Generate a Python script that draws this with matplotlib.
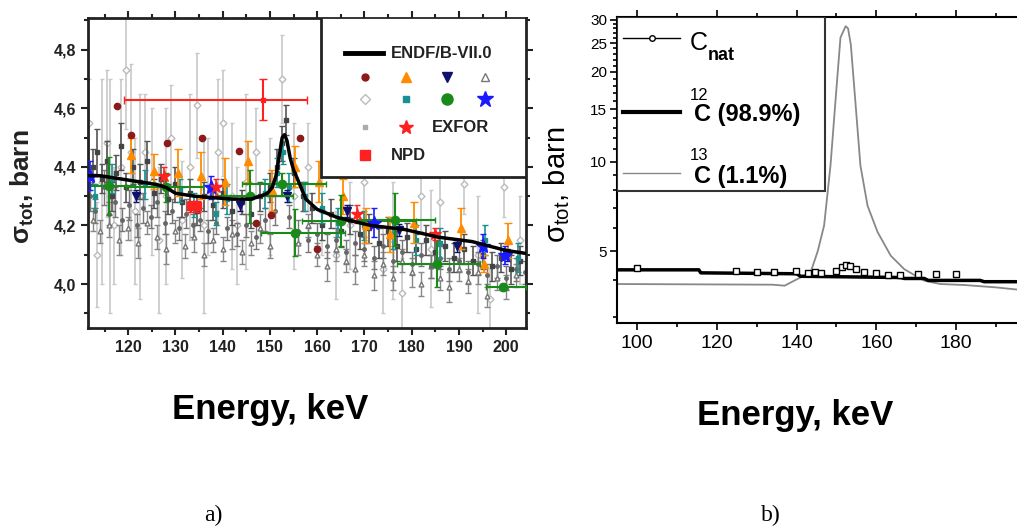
import matplotlib
matplotlib.use("Agg")
import matplotlib.pyplot as plt
from matplotlib.patches import Rectangle
from matplotlib.ticker import FixedLocator, MultipleLocator, FuncFormatter, NullFormatter

plt.rcParams["font.family"] = ["Liberation Sans", "DejaVu Sans"]
plt.rcParams["mathtext.default"] = "regular"

# ---------------- panel a data ----------------
endf_e = [111.5, 114, 118, 122, 126, 128, 130, 134, 138, 142, 146, 148, 149.5, 150.5, 151.3, 152,
          152.6, 153.1, 153.6, 154.3, 155.0, 155.8, 157.6, 160, 164.3, 171.4, 178.6, 185.7, 192.8,
          199.9, 204]
endf_s = [4.37, 4.37, 4.36, 4.35, 4.34, 4.33, 4.31, 4.30, 4.295, 4.29, 4.29, 4.30, 4.31, 4.33, 4.37,
          4.44, 4.50, 4.51, 4.49, 4.43, 4.39, 4.36, 4.29, 4.255, 4.227, 4.20, 4.186, 4.16, 4.145,
          4.115, 4.105]

# dark gray EXFOR points
dg_e = [112.5, 113.5, 114.5, 115.5, 116.5, 117.5, 118.5, 119.5, 121, 122.5, 124, 125.5, 127, 128.5,
        130, 131.5, 133, 134.5, 136, 138, 140, 142, 144, 146, 148, 150, 151.5, 152.5, 153.5, 155,
        157, 159, 161, 163, 165, 167, 169, 171, 173, 175, 177, 179, 181, 183, 185, 187, 189, 191,
        193, 195, 197, 199, 201, 203]
dg_s = [4.40, 4.45, 4.36, 4.42, 4.30, 4.38, 4.47, 4.33, 4.40, 4.35, 4.42, 4.31, 4.36, 4.29,
        4.34, 4.28, 4.31, 4.25, 4.30, 4.27, 4.31, 4.25, 4.28, 4.24, 4.30, 4.33, 4.40, 4.48, 4.56, 4.38,
        4.30, 4.26, 4.20, 4.24, 4.18, 4.22, 4.17, 4.19, 4.14, 4.18, 4.13, 4.16, 4.12, 4.15, 4.11, 4.13,
        4.09, 4.12, 4.08, 4.10, 4.06, 4.09, 4.05, 4.08]
dg_err = [0.06, 0.08, 0.05, 0.07, 0.05, 0.06, 0.08, 0.05, 0.06, 0.06, 0.07, 0.05, 0.05, 0.05,
          0.06, 0.05, 0.05, 0.05, 0.05, 0.05, 0.05, 0.05, 0.04, 0.05, 0.05, 0.05, 0.06, 0.06, 0.05,
          0.05, 0.05, 0.05, 0.05, 0.05, 0.05, 0.05, 0.05, 0.05, 0.05, 0.05, 0.05, 0.05, 0.05, 0.05,
          0.05, 0.05, 0.05, 0.05, 0.05, 0.05, 0.05, 0.05, 0.05, 0.05]

# second dark gray set (small circles)
xg_e = [112, 113, 114.8, 116, 117.2, 118.8, 120.2, 121.8, 123.2, 124.8, 126.2, 127.8, 129.2, 130.8,
        132.2, 133.8, 135.2, 136.8, 138.5, 141, 143, 145, 147, 149, 151, 154, 156, 158, 160, 162,
        164, 166, 168, 170, 172, 174, 176, 178, 180, 182, 184, 186, 188, 190, 192, 194, 196, 198,
        200, 202, 204]
xg_s = [4.30, 4.25, 4.33, 4.24, 4.28, 4.22, 4.27, 4.20, 4.26, 4.23, 4.28, 4.21, 4.25, 4.19, 4.24,
        4.20, 4.22, 4.18, 4.21, 4.19, 4.17, 4.20, 4.16, 4.22, 4.25, 4.23, 4.18, 4.15, 4.17, 4.13,
        4.15, 4.11, 4.14, 4.12, 4.09, 4.13, 4.08, 4.11, 4.07, 4.10, 4.06, 4.09, 4.05, 4.08, 4.04,
        4.07, 4.03, 4.06, 4.02, 4.05, 4.04]
xg_err = [0.05, 0.04, 0.06, 0.04, 0.05, 0.04, 0.05, 0.04, 0.05, 0.04, 0.05, 0.04, 0.04, 0.04, 0.05,
          0.04, 0.04, 0.04, 0.04, 0.04, 0.04, 0.04, 0.04, 0.04, 0.05, 0.04, 0.04, 0.04, 0.04, 0.04,
          0.04, 0.04, 0.04, 0.04, 0.04, 0.04, 0.04, 0.04, 0.04, 0.04, 0.04, 0.04, 0.04, 0.04, 0.04,
          0.04, 0.04, 0.04, 0.04, 0.04, 0.04]

# mid gray open triangles
mg_e = [112.5, 114, 116, 118, 120, 122, 124, 126, 128, 130, 132, 134, 136, 138, 140, 142, 144, 146,
        148, 150, 156, 158, 160, 162, 164, 166, 168, 170, 172, 174, 176, 178, 180, 182, 184, 186,
        188, 190, 192, 194, 196, 198, 200, 202]
mg_s = [4.22, 4.18, 4.20, 4.15, 4.19, 4.14, 4.21, 4.16, 4.12, 4.18, 4.13, 4.16, 4.10, 4.15, 4.12,
        4.17, 4.11, 4.14, 4.19, 4.13, 4.14, 4.20, 4.10, 4.06, 4.12, 4.08, 4.05, 4.10, 4.03, 4.07,
        4.02, 4.08, 4.04, 4.00, 4.06, 4.02, 3.99, 4.05, 4.01, 4.04, 3.96, 4.02, 3.99, 4.03]
mg_err = [0.04, 0.04, 0.04, 0.05, 0.04, 0.05, 0.04, 0.04, 0.05, 0.04, 0.04, 0.05, 0.04, 0.04,
          0.04, 0.05, 0.04, 0.04, 0.05, 0.04, 0.04, 0.04, 0.04, 0.05, 0.04, 0.04, 0.05, 0.04, 0.05,
          0.04, 0.04, 0.04, 0.05, 0.04, 0.04, 0.04, 0.05, 0.04, 0.04, 0.04, 0.04, 0.04, 0.04, 0.04]

# light gray open diamonds, large errors
lg_e = [111.8, 113.5, 114.5, 115.5, 116.2, 117, 118.5, 119.5, 120.5, 121.5, 122.5, 123.5, 125,
        126.5, 128, 129, 131.5, 133, 134.5, 136, 137, 139, 140, 142, 143, 145, 147, 150, 152.5,
        155, 158, 161, 164, 167, 170, 174, 176, 178, 182, 184, 186, 191, 194, 196.5, 199.5, 203]
lg_s = [4.55, 4.10, 4.35, 4.48, 4.30, 4.20, 4.40, 4.73, 4.45, 4.25, 4.30, 4.45, 4.35,
        4.15, 4.30, 4.50, 4.22, 4.40, 4.61, 4.20, 4.30, 4.45, 4.55, 4.30, 4.20, 4.35, 4.45, 4.30, 4.70,
        4.30, 4.40, 4.25, 4.10, 4.20, 4.35, 4.05, 4.15, 3.97, 4.30, 4.12, 4.28, 4.34, 4.10, 3.95,
        4.33, 4.15]
lg_err = [0.15, 0.18, 0.35, 0.25, 0.40, 0.20, 0.30, 0.20, 0.30, 0.25, 0.35, 0.20, 0.25,
          0.25, 0.30, 0.18, 0.20, 0.25, 0.18, 0.30, 0.20, 0.25, 0.18, 0.25, 0.20, 0.30, 0.15, 0.20,
          0.15, 0.25, 0.15, 0.15, 0.15, 0.15, 0.12, 0.15, 0.20, 0.12, 0.12, 0.20, 0.15, 0.10, 0.20,
          0.10, 0.10, 0.15]

# coloured EXFOR sets
dr_e = [117.6, 120.5, 128.3, 135.6, 143.4, 147, 150.3, 156.3, 160]
dr_s = [4.607, 4.51, 4.48, 4.50, 4.455, 4.21, 4.235, 4.50, 4.12]

or_e = [120.5, 125.5, 130.5, 135.5, 140.5, 145.4, 150.4, 155.4, 160.4, 165.4, 170.4, 175.4, 180.4,
        190.4, 195.4, 200.4]
or_s = [4.44, 4.385, 4.38, 4.37, 4.35, 4.42, 4.32, 4.40, 4.35, 4.30, 4.20, 4.17, 4.21, 4.19, 4.07, 4.15]
or_err = [0.06, 0.06, 0.08, 0.08, 0.08, 0.07, 0.07, 0.07, 0.07, 0.06, 0.06, 0.06, 0.07, 0.07, 0.03, 0.06]

nv_e = [121.6, 143.7, 153.6, 166.4, 177.4, 189.5, 200.2]
nv_s = [4.30, 4.27, 4.30, 4.25, 4.185, 4.13, 4.10]
nv_err = [0.02, 0.02, 0.02, 0.02, 0.02, 0.02, 0.02]

tl_e = [113, 116.5, 123.5, 131, 134, 138.5, 141, 149, 151.5, 152.8, 154, 157.5, 161, 164.5, 170,
        176, 181, 186, 195.5, 202.5]
tl_s = [4.30, 4.36, 4.34, 4.32, 4.27, 4.24, 4.29, 4.31, 4.38, 4.45, 4.33, 4.30, 4.26, 4.21, 4.20,
        4.17, 4.15, 4.14, 4.15, 4.09]
tl_err = [0.04, 0.05, 0.05, 0.04, 0.04, 0.04, 0.05, 0.05, 0.05, 0.04, 0.05, 0.05, 0.05, 0.05, 0.05,
          0.05, 0.05, 0.05, 0.05, 0.05]

gr_e = [115.9, 128, 145.8, 152.6, 155.4, 165, 176.4, 185.3, 199.3]
gr_s = [4.335, 4.33, 4.30, 4.34, 4.175, 4.215, 4.22, 4.07, 3.99]
gr_xlo = [4, 8.5, 7, 8.5, 7.2, 8.2, 8, 8.4, 3.5]
gr_xhi = [5.5, 7.8, 9, 9.2, 10.5, 16, 8.5, 9.2, 5]
gr_yerr = [0.1, 0.05, 0.09, 0.04, 0.08, 0.09, 0.09, 0.08, 0.01]

bl_e = [112, 137.6, 172, 195, 199.7]
bl_s = [4.37, 4.33, 4.21, 4.13, 4.10]
bl_err = [0.05, 0.04, 0.05, 0.04, 0.03]

rs_e = [127.5, 138.5, 168.5, 185]
rs_s = [4.37, 4.33, 4.24, 4.17]
rs_err = [0.03, 0.03, 0.03, 0.02]

npd_e = [133.3, 134.5]
npd_s = [4.265, 4.265]
npd_err = [0.02, 0.02]
# NPD point with energy range
npdr_e = [148.5]
npdr_s = [4.63]
npdr_xlo = [29.3]
npdr_xhi = [9.3]
npdr_err = [0.07]

# ---------------- panel b data ----------------
c12_e = [95, 115.5, 116, 140, 141, 166, 167, 172, 173, 186, 187, 200]
c12_s = [4.33, 4.33, 4.23, 4.20, 4.12, 4.08, 4.05, 4.05, 3.99, 3.99, 3.95, 3.95]

c13_e = [95, 134, 137, 140, 143.5, 145.3, 146.9, 148.5, 149.8, 151, 152.3, 152.9, 153.6, 154.8,
         156, 157.8, 160.3, 163.6, 167, 172, 176, 182, 190, 195, 200]
c13_s = [3.88, 3.86, 3.83, 4.02, 4.24, 5.0, 6.1, 9.7, 16.3, 26.1, 28.5, 28.0, 24.7, 15.5,
         9.7, 7.1, 5.8, 4.83, 4.35, 3.98, 3.88, 3.85, 3.78, 3.72, 3.68]

cnat_e = [100, 124.7, 130.2, 134.3, 139.8, 142.8, 144.5, 146, 150, 151.5, 152.5, 153.5, 155, 157,
          160, 163, 166, 170.5, 175, 180]
cnat_s = [4.38, 4.30, 4.27, 4.27, 4.28, 4.22, 4.25, 4.22, 4.30, 4.42, 4.50, 4.45, 4.35, 4.25,
          4.22, 4.17, 4.15, 4.19, 4.19, 4.19]

W, H = 1017, 530
fig = plt.figure(figsize=(W / 100, H / 100), dpi=100)


def fx(px):
    return px / W


def fy(py):
    return 1 - py / H


# ================= panel a =================
ax = fig.add_axes([fx(88), fy(328), fx(526 - 88), (328 - 17.5) / H])

ax.errorbar(lg_e, lg_s, yerr=lg_err, fmt="D", ms=3.5, mfc="white", mec="#bbbbbb", ecolor="#c8c8c8",
            elinewidth=1.2, capsize=1.5, zorder=1)
ax.errorbar(mg_e, mg_s, yerr=mg_err, fmt="^", ms=3.5, mfc="white", mec="#777777", ecolor="#888888",
            elinewidth=1, capsize=2, zorder=2)
ax.errorbar(xg_e, xg_s, yerr=xg_err, fmt="o", ms=2.5, color="#666666", ecolor="#777777",
            elinewidth=1, capsize=2, zorder=2)
ax.errorbar(dg_e, dg_s, yerr=dg_err, fmt="s", ms=2.5, color="#444444", ecolor="#555555",
            elinewidth=1.2, capsize=2, zorder=2)

ax.errorbar(tl_e, tl_s, yerr=tl_err, fmt="s", ms=3.5, color="#1a9090", elinewidth=1.2, capsize=2, zorder=3)
ax.errorbar(or_e, or_s, yerr=or_err, fmt="^", ms=6, color="#ff8c00", elinewidth=1.3, capsize=3, zorder=4)
ax.errorbar(nv_e, nv_s, yerr=nv_err, fmt="v", ms=6, color="#10106e", elinewidth=1, capsize=2, zorder=4)
ax.plot(dr_e, dr_s, "o", ms=4.5, color="#8b1a1a", zorder=4)
ax.errorbar(gr_e, gr_s, xerr=[gr_xlo, gr_xhi], yerr=gr_yerr, fmt="o", ms=6, color="#1a8a1a",
            elinewidth=1.5, capsize=2.5, zorder=5)
ax.errorbar(bl_e, bl_s, yerr=bl_err, fmt="*", ms=10, color="#1a1aff", elinewidth=1.2, capsize=2, zorder=5)
ax.errorbar(rs_e, rs_s, yerr=rs_err, fmt="*", ms=9, color="#ff2020", elinewidth=1.2, capsize=2, zorder=5)
ax.errorbar(npd_e, npd_s, yerr=npd_err, fmt="s", ms=6, color="#ff2020", elinewidth=1.5, capsize=3, zorder=5)
ax.errorbar(npdr_e, npdr_s, xerr=[npdr_xlo, npdr_xhi], yerr=npdr_err, fmt="s", ms=3, color="#ff2020",
            elinewidth=1.5, capsize=3, zorder=5)

ax.plot(endf_e, endf_s, color="black", lw=2.5, zorder=6)

ax.set_xlim(111.5, 204.2)
ax.set_ylim(3.85, 4.91)
ax.xaxis.set_major_locator(MultipleLocator(10))
ax.xaxis.set_minor_locator(MultipleLocator(5))
ax.yaxis.set_major_locator(MultipleLocator(0.2))
ax.yaxis.set_minor_locator(MultipleLocator(0.1))
ax.yaxis.set_major_formatter(FuncFormatter(lambda v, p: f"{v:.1f}".replace(".", ",")))
ax.tick_params(which="both", direction="out", top=True, right=True, width=1.5, colors="#222222",
               labelsize=11.5)
ax.tick_params(which="major", length=5)
ax.tick_params(which="minor", length=3)
for lab in ax.get_xticklabels() + ax.get_yticklabels():
    lab.set_fontweight("bold")
for s in ax.spines.values():
    s.set_linewidth(2)
    s.set_color("#222222")


# hand-made legend in the upper right corner
def axa(px, py):
    return (px - 88) / 438, (328 - py) / 310.5


x0, y0 = axa(321, 177)
ax.add_patch(Rectangle((x0, y0), 1 - x0, 1 - y0, transform=ax.transAxes, facecolor="white",
                       edgecolor="#222222", lw=2, zorder=10))
lx1, ly = axa(345, 53)
lx2, _ = axa(383, 53)
ax.plot([lx1, lx2], [ly, ly], color="black", lw=3.5, transform=ax.transAxes, zorder=11)
ax.text(axa(391, 53)[0], ly, "ENDF/B-VII.0", transform=ax.transAxes, fontsize=12,
        fontweight="bold", va="center", color="#222222", zorder=11)

cols = [axa(px, 0)[0] for px in (365, 406, 447, 485)]
rows = [axa(0, py)[1] for py in (77, 99, 127, 155)]
leg_marks = [
    (0, 0, dict(marker="o", ms=5, color="#8b1a1a")),
    (0, 1, dict(marker="^", ms=7, color="#ff8c00")),
    (0, 2, dict(marker="v", ms=7, color="#10106e")),
    (0, 3, dict(marker="^", ms=6, mfc="white", mec="#777777")),
    (1, 0, dict(marker="D", ms=5, mfc="white", mec="#bbbbbb")),
    (1, 1, dict(marker="s", ms=4.5, color="#1a9090")),
    (1, 2, dict(marker="o", ms=8, color="#1a8a1a")),
    (1, 3, dict(marker="*", ms=12, color="#1a1aff")),
    (2, 0, dict(marker="s", ms=3.5, color="#aaaaaa")),
    (2, 1, dict(marker="*", ms=10, color="#ff2020")),
    (3, 0, dict(marker="s", ms=6.5, color="#ff2020")),
]
for r, c, kw in leg_marks:
    ax.plot([cols[c]], [rows[r]], linestyle="none", transform=ax.transAxes, zorder=11, **kw)
ax.text(axa(432, 0)[0], rows[2], "EXFOR", transform=ax.transAxes, fontsize=12, fontweight="bold",
        va="center", color="#222222", zorder=11)
ax.text(axa(391, 0)[0], rows[3], "NPD", transform=ax.transAxes, fontsize=12, fontweight="bold",
        va="center", color="#222222", zorder=11)

fig.text(fx(22), fy(187), "σ$_{tot}$, barn", rotation=90, ha="center", va="center",
         fontsize=19, fontweight="bold", color="#222222")
fig.text(fx(270), fy(410), "Energy, keV", ha="center", va="center", fontsize=25, fontweight="bold")
fig.text(fx(213), fy(515), "a)", ha="center", va="center", fontsize=17, family="Liberation Serif")

# ================= panel b =================
bx = fig.add_axes([fx(617), fy(323), fx(1034 - 617), (323 - 17) / H])
bx.plot(c13_e, c13_s, color="#888888", lw=1.3, zorder=2)
bx.plot(c12_e, c12_s, color="black", lw=2.5, zorder=3)
bx.plot(cnat_e, cnat_s, "s", ms=4, mfc="white", mec="black", mew=1, zorder=4)

bx.set_yscale("log")
bx.set_xlim(95, 199.5)
bx.set_ylim(2.87, 30.6)
bx.yaxis.set_major_locator(FixedLocator([5, 10, 15, 20, 25, 30]))
bx.yaxis.set_major_formatter(FuncFormatter(lambda v, p: f"{v:.0f}"))
bx.yaxis.set_minor_locator(FixedLocator([3, 4, 6, 7, 8, 9] + list(range(11, 30))))
bx.yaxis.set_minor_formatter(NullFormatter())
bx.xaxis.set_major_locator(MultipleLocator(20))
bx.xaxis.set_minor_locator(MultipleLocator(10))
bx.tick_params(which="both", direction="out", top=True, right=True, width=1.2)
bx.tick_params(which="major", length=5)
bx.tick_params(which="minor", length=3)
bx.tick_params(axis="x", labelsize=14)
bx.tick_params(axis="y", labelsize=11, pad=2)
for s in bx.spines.values():
    s.set_linewidth(1.5)


def axb(px, py):
    return (px - 617) / 417, (323 - py) / 306


bx0, by0 = axb(617, 191)
bx1, _ = axb(825, 191)
bx.add_patch(Rectangle((bx0, by0), bx1 - bx0, 1 - by0, transform=bx.transAxes, facecolor="white",
                       edgecolor="#333333", lw=1.5, zorder=10))
p1, q1 = axb(623, 38)
p2, _ = axb(680, 38)
bx.plot([p1, p2], [q1, q1], color="black", lw=1, transform=bx.transAxes, zorder=11)
bx.plot([axb(652, 0)[0]], [q1], "o", ms=4, mfc="white", mec="black", transform=bx.transAxes, zorder=11)
_, q2 = axb(0, 112)
bx.plot([p1, p2], [q2, q2], color="black", lw=3, transform=bx.transAxes, zorder=11)
_, q3 = axb(0, 173)
bx.plot([p1, p2], [q3, q3], color="#888888", lw=1, transform=bx.transAxes, zorder=11)

tx, _ = axb(690, 0)
bx.text(tx, axb(0, 43)[1], "C", transform=bx.transAxes, fontsize=18, va="center", zorder=11)
bx.text(axb(708, 0)[0], axb(0, 56)[1], "nat", transform=bx.transAxes, fontsize=13,
        fontweight="bold", va="center", zorder=11)
bx.text(tx, axb(0, 96)[1], "12", transform=bx.transAxes, fontsize=12, va="center", zorder=11)
bx.text(axb(694, 0)[0], axb(0, 115)[1], "C (98.9%)", transform=bx.transAxes, fontsize=17,
        fontweight="bold", va="center", zorder=11)
bx.text(tx, axb(0, 155)[1], "13", transform=bx.transAxes, fontsize=12, va="center", zorder=11)
bx.text(axb(694, 0)[0], axb(0, 177)[1], "C (1.1%)", transform=bx.transAxes, fontsize=17,
        fontweight="bold", va="center", zorder=11)

fig.text(fx(557), fy(185), "σ$_{tot}$, barn", rotation=90, ha="center", va="center", fontsize=21)
fig.text(fx(795), fy(415), "Energy, keV", ha="center", va="center", fontsize=25, fontweight="bold")
fig.text(fx(771), fy(515), "b)", ha="center", va="center", fontsize=17, family="Liberation Serif")

fig.savefig("out.png", dpi=100)
